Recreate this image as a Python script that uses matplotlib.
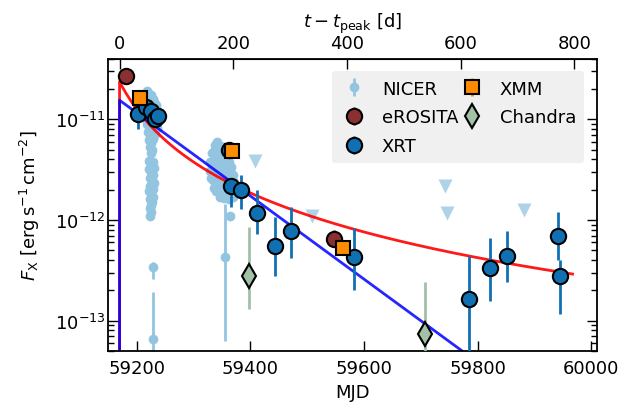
import numpy as np
import matplotlib.pyplot as plt

t_peak = 59170.0

# NICER, dense monitoring (error bars smaller than the markers)
nicer_mjd = [
    59216, 59219, 59222, 59225, 59228, 59231, 59234,
    59217, 59220, 59223, 59226, 59229, 59232, 59236,
    59218, 59221, 59224, 59227, 59230, 59233, 59238,
    59219, 59222, 59225, 59228, 59231, 59235,
    59220, 59223, 59226, 59229, 59232,
    59222, 59225, 59228, 59224, 59227, 59226,
    59222, 59228, 59225, 59230, 59221, 59226, 59229, 59223, 59227, 59231,
    59224, 59228, 59222, 59226, 59229, 59224, 59227, 59225, 59223, 59226, 59224,
    59338, 59342, 59347, 59352,
    59333, 59337, 59341, 59345, 59349, 59353, 59357, 59361,
    59330, 59334, 59338, 59342, 59346, 59350, 59354, 59358, 59362, 59366,
    59329, 59333, 59337, 59341, 59345, 59349, 59353, 59357, 59361, 59365, 59369,
    59331, 59335, 59339, 59343, 59347, 59351, 59355, 59359, 59363, 59367, 59372,
    59336, 59340, 59344, 59348, 59352, 59356, 59360, 59364, 59368, 59373,
    59346, 59354, 59362, 59370]
nicer_flux = [
    1.7e-11, 1.9e-11, 1.8e-11, 1.75e-11, 1.6e-11, 1.5e-11, 1.4e-11,
    1.45e-11, 1.55e-11, 1.35e-11, 1.5e-11, 1.3e-11, 1.2e-11, 1.25e-11,
    1.15e-11, 1.2e-11, 1.1e-11, 1.0e-11, 1.05e-11, 9.5e-12, 1.0e-11,
    9.0e-12, 8.5e-12, 9.2e-12, 8.0e-12, 8.8e-12, 8.2e-12,
    7.5e-12, 7.0e-12, 7.6e-12, 6.8e-12, 7.2e-12,
    6.2e-12, 5.8e-12, 6.4e-12, 5.3e-12, 5.0e-12, 4.6e-12,
    3.9e-12, 3.8e-12, 3.5e-12, 3.3e-12, 3.2e-12, 3.0e-12, 2.8e-12, 2.6e-12, 2.5e-12, 2.35e-12,
    2.2e-12, 2.05e-12, 1.95e-12, 1.85e-12, 1.7e-12, 1.6e-12, 1.5e-12, 1.4e-12, 1.3e-12, 1.2e-12, 1.1e-12,
    5.6e-12, 6.0e-12, 5.5e-12, 5.3e-12,
    4.6e-12, 4.9e-12, 4.4e-12, 4.8e-12, 4.5e-12, 4.7e-12, 4.3e-12, 4.6e-12,
    3.8e-12, 3.6e-12, 3.9e-12, 3.5e-12, 3.8e-12, 3.6e-12, 3.9e-12, 3.5e-12, 3.8e-12, 3.4e-12,
    3.1e-12, 3.0e-12, 3.2e-12, 2.9e-12, 3.1e-12, 2.8e-12, 3.0e-12, 3.2e-12, 2.9e-12, 3.1e-12, 2.8e-12,
    2.6e-12, 2.5e-12, 2.7e-12, 2.4e-12, 2.6e-12, 2.3e-12, 2.5e-12, 2.6e-12, 2.3e-12, 2.5e-12, 2.4e-12,
    2.1e-12, 1.95e-12, 2.15e-12, 1.9e-12, 2.05e-12, 1.8e-12, 2.0e-12, 1.85e-12, 2.0e-12, 1.9e-12,
    1.7e-12, 1.65e-12, 1.6e-12, 1.7e-12]

# NICER, faint detections with visible errors
nicer_faint_mjd = [59229, 59229, 59356, 59365]
nicer_faint_flux = [3.4e-13, 6.5e-14, 4.3e-13, 1.1e-12]
nicer_faint_lo = [2.6e-13, 1e-15, 6.3e-14, 1.0e-12]
nicer_faint_hi = [3.8e-13, 1.9e-13, 1.45e-12, 1.2e-12]

# NICER 3-sigma upper limits
ul_mjd = [59408, 59509, 59742, 59746, 59882]
ul_flux = [3.9e-12, 1.1e-12, 2.2e-12, 1.18e-12, 1.25e-12]

xrt_mjd = [59202, 59217, 59226, 59233, 59238, 59362, 59366, 59384, 59411, 59444,
           59471, 59583, 59785, 59821, 59852, 59942, 59945]
xrt_flux = [1.14e-11, 1.34e-11, 1.22e-11, 1.02e-11, 1.09e-11, 5.0e-12, 2.19e-12, 1.97e-12, 1.17e-12, 5.57e-13,
            7.7e-13, 4.3e-13, 1.64e-13, 3.34e-13, 4.43e-13, 7.0e-13, 2.77e-13]
xrt_lo = [8.05e-12, 1.25e-11, 1.12e-11, 9.3e-12, 1.0e-11, 4.6e-12, 1.35e-12, 1.29e-12, 7.3e-13, 2.8e-13,
          4.2e-13, 2.0e-13, 1e-15, 1.58e-13, 2.4e-13, 4.0e-13, 1.17e-13]
xrt_hi = [1.22e-11, 1.42e-11, 1.3e-11, 1.1e-11, 1.16e-11, 5.4e-12, 2.6e-12, 2.77e-12, 1.97e-12, 1.07e-12,
          1.34e-12, 8.3e-13, 4.4e-13, 6.65e-13, 7.7e-13, 1.2e-12, 4.0e-13]

erosita_mjd = [59181, 59548]
erosita_flux = [2.69e-11, 6.5e-13]
erosita_lo = [2.5e-11, 5.6e-13]
erosita_hi = [2.9e-11, 8.0e-13]

xmm_mjd = [59206, 59367, 59564]
xmm_flux = [1.63e-11, 4.9e-12, 5.3e-13]
xmm_lo = [1.58e-11, 4.75e-12, 5.0e-13]
xmm_hi = [1.68e-11, 5.05e-12, 5.6e-13]

chandra_mjd = [59397, 59708]
chandra_flux = [2.74e-13, 7.4e-14]
chandra_lo = [1.29e-13, 1e-15]
chandra_hi = [8.5e-13, 2.4e-13]

# decay models: power law (red) and exponential (blue), zero before the peak
pl_norm, pl_t0, pl_index = 2.37e-11, 59100.0, 1.75
exp_norm, exp_tau = 1.55e-11, 105.0


def yerr(flux, lo, hi):
    flux, lo, hi = map(np.asarray, (flux, lo, hi))
    return [flux - lo, hi - flux]


t = np.linspace(t_peak, 59967, 600)
f_pl = pl_norm * ((t - pl_t0) / (t_peak - pl_t0)) ** (-pl_index)
f_exp = exp_norm * np.exp(-(t - t_peak) / exp_tau)
t_mod = np.concatenate([[t_peak], t])
f_pl = np.concatenate([[1e-20], f_pl])
f_exp = np.concatenate([[1e-20], f_exp])

c_nicer = '#93c5e0'
c_xrt = '#1170b2'
c_ero = '#8b3030'
c_xmm = '#ff8c00'
c_cha = '#a2c1a6'

fs = 13
fig, ax = plt.subplots(figsize=(6.44, 4.1), dpi=100)
fig.subplots_adjust(left=0.168, right=0.927, top=0.854, bottom=0.142)

ax.errorbar(nicer_mjd, nicer_flux, fmt='o', ms=6, color=c_nicer, zorder=1)
ax.errorbar(nicer_faint_mjd, nicer_faint_flux,
            yerr=yerr(nicer_faint_flux, nicer_faint_lo, nicer_faint_hi),
            fmt='o', ms=6, color=c_nicer, elinewidth=2, zorder=1, label='NICER')
ax.plot(ul_mjd, ul_flux, 'v', ms=10, color=c_nicer, alpha=0.75, mec='none', zorder=1)

ax.plot(t_mod, f_pl, color='red', lw=2, alpha=0.9, zorder=2)
ax.plot(t_mod, f_exp, color='blue', lw=2, alpha=0.85, zorder=2)

ax.errorbar(erosita_mjd, erosita_flux, yerr=yerr(erosita_flux, erosita_lo, erosita_hi),
            fmt='o', ms=11, mfc=c_ero, mec='k', mew=1.5, ecolor=c_ero, elinewidth=2,
            zorder=4, label='eROSITA')
ax.errorbar(xrt_mjd, xrt_flux, yerr=yerr(xrt_flux, xrt_lo, xrt_hi),
            fmt='o', ms=11, mfc=c_xrt, mec='k', mew=1.5, ecolor=c_xrt, elinewidth=2,
            zorder=3, label='XRT')
ax.errorbar(xmm_mjd, xmm_flux, yerr=yerr(xmm_flux, xmm_lo, xmm_hi),
            fmt='s', ms=10.5, mfc=c_xmm, mec='k', mew=1.5, ecolor=c_xmm, elinewidth=2,
            zorder=5, label='XMM')
ax.errorbar(chandra_mjd, chandra_flux, yerr=yerr(chandra_flux, chandra_lo, chandra_hi),
            fmt='d', ms=12, mfc=c_cha, mec='k', mew=1.5, ecolor=c_cha, elinewidth=2,
            zorder=4, label='Chandra')

ax.set_yscale('log')
ax.set_xlim(59150, 60010)
ax.set_ylim(5e-14, 4e-11)
ax.set_xticks([59200, 59400, 59600, 59800, 60000])
ax.set_xlabel('MJD', fontsize=fs, labelpad=4)
ax.set_ylabel(r'$F_\mathrm{X}$ [erg$\,$s$^{-1}\,$cm$^{-2}$]', fontsize=fs, labelpad=9)
ax.tick_params(which='both', direction='in', right=True, labelsize=fs, width=1)
ax.tick_params(which='major', length=7)
ax.tick_params(which='minor', length=4)
ax.tick_params(axis='x', pad=6)
ax.tick_params(axis='y', pad=2)
for sp in ax.spines.values():
    sp.set_linewidth(1.3)

top = ax.secondary_xaxis('top', functions=(lambda x: x - t_peak, lambda x: x + t_peak))
top.set_xticks([0, 200, 400, 600, 800])
top.tick_params(direction='in', length=7, width=1, labelsize=fs, pad=5)
top.set_xlabel(r'$t - t_\mathrm{peak}$ [d]', fontsize=fs, labelpad=5)

handles, labels = ax.get_legend_handles_labels()
order = [labels.index(n) for n in ['NICER', 'eROSITA', 'XRT', 'XMM', 'Chandra']]
leg = ax.legend([handles[i] for i in order], [labels[i] for i in order],
                loc='upper right', ncol=2, fontsize=fs, frameon=True,
                facecolor='#f0f0f0', edgecolor='none', framealpha=1,
                handlelength=1.5, handletextpad=0.8, columnspacing=0.0,
                labelspacing=0.6, borderaxespad=0.7, borderpad=0.45)

fig.savefig('out.png', dpi=100)
